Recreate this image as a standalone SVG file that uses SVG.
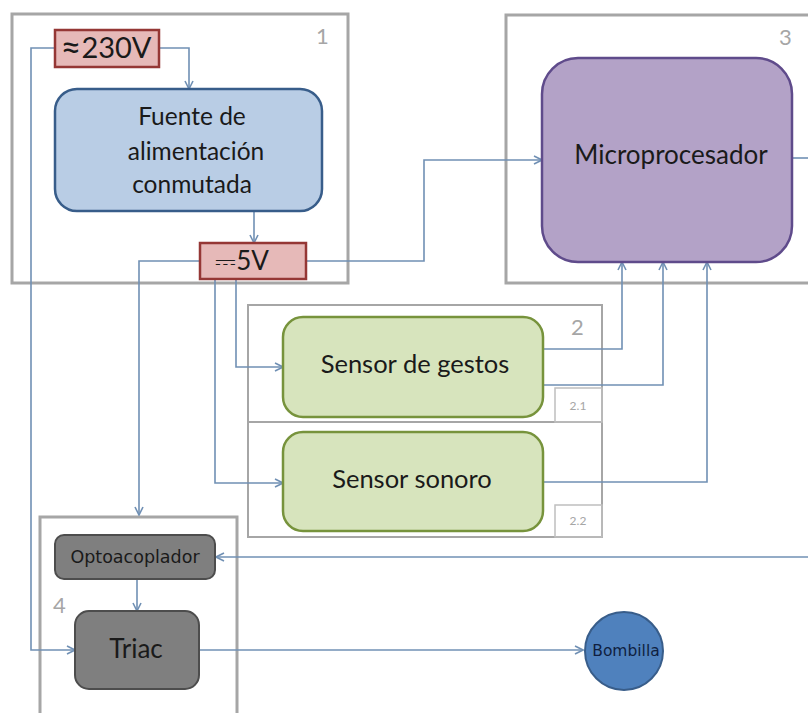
<svg xmlns="http://www.w3.org/2000/svg" width="808" height="713" viewBox="0 0 808 713">
  <defs>
    <style>
      .frame { fill: #ffffff; stroke: #a6a6a6; stroke-width: 3; }
      .frame-thin { fill: none; stroke: #a6a6a6; stroke-width: 2; }
      .tag { fill: none; stroke: #bfbfbf; stroke-width: 1.5; }
      .num { font-family: Lato, "Liberation Sans", sans-serif; font-size: 22px; fill: #a6a6a6; }
      .subnum { font-family: Lato, "Liberation Sans", sans-serif; font-size: 12px; fill: #a6a6a6; text-anchor: middle; }
      .volt { fill: #e6b9b8; stroke: #953735; stroke-width: 2.5; }
      .label { font-family: Lato, "Liberation Sans", sans-serif; fill: #1a1a1a; text-anchor: middle; }
      .small { font-family: "DejaVu Sans", Verdana, sans-serif; text-anchor: middle; }
      .wire { fill: none; stroke: #7090b4; stroke-width: 1.6; }
      .wire-arrow { fill: none; stroke: #7090b4; stroke-width: 1.6; marker-end: url(#arrow); }
    </style>
    <marker id="arrow" viewBox="0 0 10 10" refX="9" refY="5" markerWidth="10" markerHeight="10" markerUnits="userSpaceOnUse" orient="auto">
      <path d="M1,1 L9,5 L1,9" fill="none" stroke="#7090b4" stroke-width="1.6"/>
    </marker>
  </defs>

  <rect width="808" height="713" fill="#ffffff"/>

  <!-- block frames -->
  <g id="block-1">
    <rect class="frame" x="12" y="14" width="336" height="269"/>
    <text class="num" x="316" y="44">1</text>
  </g>
  <g id="block-3">
    <rect class="frame" x="506" y="15" width="310" height="268"/>
    <text class="num" x="779" y="45">3</text>
  </g>
  <g id="block-2">
    <rect class="frame-thin" x="248" y="305" width="354" height="232"/>
    <line class="frame-thin" x1="248" y1="422" x2="602" y2="422"/>
    <text class="num" x="571" y="335">2</text>
    <rect class="tag" x="555" y="388" width="47" height="34"/>
    <text class="subnum" x="578" y="410">2.1</text>
    <rect class="tag" x="555" y="505" width="47" height="32"/>
    <text class="subnum" x="578" y="525">2.2</text>
  </g>
  <g id="block-4">
    <rect class="frame" x="40" y="517" width="197" height="210"/>
    <text class="num" x="53" y="613">4</text>
  </g>

  <!-- connectors -->
  <g id="connectors">
    <path class="wire-arrow" d="M159,48 H189 V89"/>
    <path class="wire-arrow" d="M254,211 V243"/>
    <path class="wire-arrow" d="M55,48 H31 V650 H75"/>
    <path class="wire-arrow" d="M200,261 H139 V515"/>
    <path class="wire-arrow" d="M306,261 H424 V160 H542"/>
    <path class="wire-arrow" d="M236,279 V367 H283"/>
    <path class="wire-arrow" d="M215,279 V483 H283"/>
    <path class="wire-arrow" d="M543,349 H622 V262"/>
    <path class="wire-arrow" d="M543,385 H663 V262"/>
    <path class="wire-arrow" d="M543,482 H707 V262"/>
    <path class="wire" d="M792,158 H808"/>
    <path class="wire-arrow" d="M808,557 H216"/>
    <path class="wire-arrow" d="M137,579 V611"/>
    <path class="wire-arrow" d="M199,650 H583"/>
  </g>

  <!-- nodes -->
  <g id="mains-230v">
    <rect class="volt" x="55" y="30" width="104" height="37"/>
    <text class="label" x="106" y="58" font-size="29"><tspan font-size="36" dy="2">≈</tspan><tspan dy="-2">230V</tspan></text>
  </g>
  <g id="power-supply">
    <rect x="55" y="89" width="267" height="122" rx="22" fill="#b9cde5" stroke="#385d8a" stroke-width="2.5"/>
    <text class="label" x="192" y="125" font-size="24.5">Fuente de</text>
    <text class="label" x="196" y="160" font-size="24.5">alimentación</text>
    <text class="label" x="192" y="193" font-size="24.5">conmutada</text>
  </g>
  <g id="supply-5v">
    <rect class="volt" x="200" y="243" width="106" height="36"/>
    <text class="label" x="242" y="270" font-size="26">⎓5V</text>
  </g>
  <g id="microprocessor">
    <rect x="542" y="58" width="250" height="204" rx="36" fill="#b3a2c7" stroke="#5f4b8b" stroke-width="2.5"/>
    <text class="label" x="671" y="164" font-size="26">Microprocesador</text>
  </g>
  <g id="gesture-sensor">
    <rect x="283" y="317" width="260" height="100" rx="20" fill="#d7e4bd" stroke="#77933c" stroke-width="2.5"/>
    <text class="label" x="415" y="373" font-size="25.5">Sensor de gestos</text>
  </g>
  <g id="sound-sensor">
    <rect x="283" y="432" width="260" height="99" rx="20" fill="#d7e4bd" stroke="#77933c" stroke-width="2.5"/>
    <text class="label" x="412" y="488" font-size="25.5">Sensor sonoro</text>
  </g>
  <g id="optocoupler">
    <rect x="55" y="535" width="160" height="44" rx="9" fill="#7f7f7f" stroke="#4d4d4d" stroke-width="2"/>
    <text class="small" x="135" y="563" font-size="17.5" fill="#1a1a1a">Optoacoplador</text>
  </g>
  <g id="triac">
    <rect x="75" y="611" width="124" height="78" rx="14" fill="#7f7f7f" stroke="#4d4d4d" stroke-width="2"/>
    <text class="label" x="136" y="658" font-size="26">Triac</text>
  </g>
  <g id="bulb">
    <circle cx="624" cy="651" r="39" fill="#4f81bd" stroke="#385d8a" stroke-width="2"/>
    <text class="small" x="626" y="656" font-size="15.5" fill="#0f1f40">Bombilla</text>
  </g>
</svg>
